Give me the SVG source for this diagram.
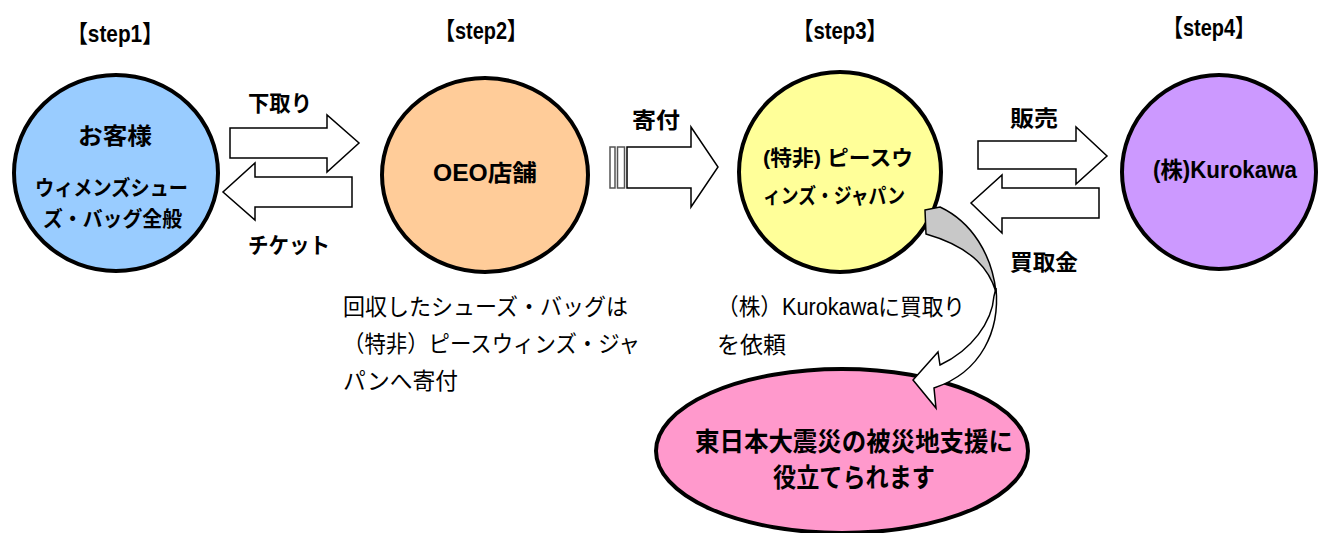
<svg xmlns="http://www.w3.org/2000/svg" width="1319" height="533" viewBox="0 0 1319 533">
<style>
.node{stroke:#000;stroke-width:4}
.arr{fill:#fff;stroke:#000;stroke-width:1.5;stroke-linejoin:miter}
.b{font-family:"Liberation Sans","Noto Sans CJK JP",sans-serif;font-weight:bold;fill:#000}
.r{font-family:"Liberation Sans","Noto Sans CJK JP",sans-serif;font-weight:normal;fill:#000}
</style>
<rect width="1319" height="533" fill="#fff"/>
<g id="titles" class="b" font-size="24">
<text x="67" y="42" textLength="96" lengthAdjust="spacingAndGlyphs">【step1】</text>
<text x="435" y="39" textLength="92" lengthAdjust="spacingAndGlyphs">【step2】</text>
<text x="793" y="39" textLength="94" lengthAdjust="spacingAndGlyphs">【step3】</text>
<text x="1163" y="36" textLength="92" lengthAdjust="spacingAndGlyphs">【step4】</text>
</g>
<g id="node1">
<ellipse class="node" cx="116" cy="173" rx="102" ry="98" fill="#99CCFF"/>
<text class="b" x="78" y="144" font-size="23" textLength="74" lengthAdjust="spacingAndGlyphs">お客様</text>
<text class="b" x="35" y="195" font-size="21" textLength="153" lengthAdjust="spacingAndGlyphs">ウィメンズシュー</text>
<text class="b" x="43" y="226" font-size="21" textLength="139" lengthAdjust="spacingAndGlyphs">ズ・バッグ全般</text>
</g>
<g id="node2">
<ellipse class="node" cx="485" cy="175" rx="103" ry="97" fill="#FFCC99"/>
<text class="b" x="433" y="181" font-size="23" textLength="104" lengthAdjust="spacingAndGlyphs">OEO店舗</text>
</g>
<g id="node3">
<ellipse class="node" cx="840" cy="172" rx="101" ry="100" fill="#FFFF99"/>
<text class="b" x="763" y="165" font-size="21" textLength="150" lengthAdjust="spacingAndGlyphs">(特非) ピースウ</text>
<text class="b" x="763" y="203" font-size="21" textLength="142" lengthAdjust="spacingAndGlyphs">ィンズ・ジャパン</text>
</g>
<g id="node4">
<ellipse class="node" cx="1219" cy="172" rx="97" ry="97" fill="#CC99FF"/>
<text class="b" x="1153" y="178" font-size="23" textLength="144" lengthAdjust="spacingAndGlyphs">(株)Kurokawa</text>
</g>
<g id="node5">
<ellipse class="node" cx="842" cy="451" rx="186" ry="82" fill="#FF99CC"/>
<text class="b" x="695" y="451" font-size="26" textLength="318" lengthAdjust="spacingAndGlyphs">東日本大震災の被災地支援に</text>
<text class="b" x="773" y="487" font-size="26" textLength="162" lengthAdjust="spacingAndGlyphs">役立てられます</text>
</g>
<g id="connectors">
<polygon class="arr" points="230,128 327,128 327,115 359,143 327,172 327,158 230,158"/>
<polygon class="arr" points="352,177 255,177 255,163 223,192 255,220 255,207 352,207"/>
<rect x="610" y="147" width="5" height="41" fill="#fff" stroke="#555" stroke-width="1.5"/>
<rect x="617.5" y="147" width="7" height="41" fill="#fff" stroke="#555" stroke-width="1.5"/>
<polygon class="arr" points="627,147 691,147 691,127 718,167 691,207 691,188 627,188"/>
<polygon class="arr" points="978,141 1076,141 1076,127 1107,156 1076,184 1076,169 978,169"/>
<polygon class="arr" points="1099,188 1002,188 1002,175 971,203 1002,233 1002,218 1099,218"/>
<path d="M925,210 L940,207 C972,222 992,255 996,292 C990,272 975,248 926,234 Z" fill="#C8C8C8" stroke="#000" stroke-width="1.5"/>
<path d="M996,288 C1000,330 982,372 934,388 L936,408 L913,380 L938,352 L940,365 C972,350 992,322 994,296 Z" fill="#fff" stroke="#000" stroke-width="1.5" stroke-linejoin="miter"/>
</g>
<g id="labels" class="b" font-size="22">
<text x="248" y="111" textLength="64" lengthAdjust="spacingAndGlyphs">下取り</text>
<text x="248" y="253" textLength="82" lengthAdjust="spacingAndGlyphs">チケット</text>
<text x="632" y="128" textLength="48" lengthAdjust="spacingAndGlyphs">寄付</text>
<text x="1010" y="126" textLength="48" lengthAdjust="spacingAndGlyphs">販売</text>
<text x="1010" y="270" textLength="68" lengthAdjust="spacingAndGlyphs">買取金</text>
</g>
<g id="notes" class="r" font-size="23">
<text x="343" y="315" textLength="285" lengthAdjust="spacingAndGlyphs">回収したシューズ・バッグは</text>
<text x="343" y="352" textLength="297" lengthAdjust="spacingAndGlyphs">（特非）ピースウィンズ・ジャ</text>
<text x="343" y="389" textLength="115" lengthAdjust="spacingAndGlyphs">パンへ寄付</text>
<text x="717" y="315" textLength="248" lengthAdjust="spacingAndGlyphs">（株）Kurokawaに買取り</text>
<text x="717" y="353" textLength="69" lengthAdjust="spacingAndGlyphs">を依頼</text>
</g>
</svg>
